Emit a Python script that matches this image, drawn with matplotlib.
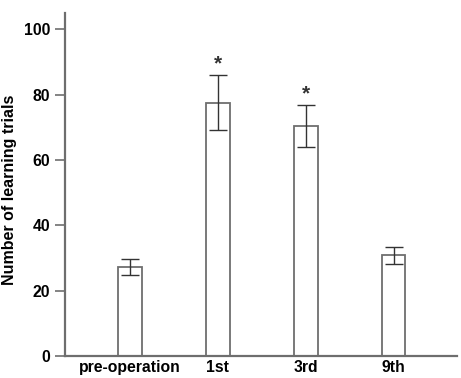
import matplotlib
matplotlib.use('Agg')
import numpy as np
import matplotlib.pyplot as plt

# --- data ---
grupos = ['pre-operation', '1st', '3rd', '9th']
medias = [27.2, 77.5, 70.4, 30.8]
erros = [2.4, 8.4, 6.3, 2.6]
signif = [False, True, True, False]

plt.rcParams['font.family'] = ['Liberation Sans', 'DejaVu Sans']
plt.rcParams['font.weight'] = 'bold'

fig = plt.figure(figsize=(4.61, 3.78), dpi=100)
ax = fig.add_axes([0.141, 0.058, 0.850, 0.908])

x = np.arange(len(grupos))
ax.bar(x, medias, width=0.27, color='white', edgecolor='#6e6e6e', linewidth=1.3, zorder=2)
ax.errorbar(x, medias, yerr=erros, fmt='none', ecolor='#333333', elinewidth=1.0,
            capsize=6.5, capthick=1.0, zorder=3)

for xi, m, e, s in zip(x, medias, erros, signif):
    if s:
        ax.text(xi, m + e + 0.5, '*', ha='center', va='bottom', fontsize=15,
                fontweight='bold', color='#333333')

ax.set_xlim(-0.74, 3.72)
ax.set_ylim(0, 105)
ax.set_yticks([0, 20, 40, 60, 80, 100])
ax.set_xticks(x)
ax.set_xticklabels(grupos, fontsize=11.3, fontweight='bold')
ax.tick_params(axis='x', length=0, pad=3)
ax.tick_params(axis='y', length=7.5, width=1.2, color='#6e6e6e', labelsize=11.3, pad=3)
for lab in ax.get_yticklabels():
    lab.set_fontweight('bold')

for lado in ['top', 'right']:
    ax.spines[lado].set_visible(False)
for lado in ['left', 'bottom']:
    ax.spines[lado].set_color('#6e6e6e')
    ax.spines[lado].set_linewidth(1.6)

ax.set_ylabel('Number of learning trials', fontsize=11.5, fontweight='bold')
ax.yaxis.set_label_coords(-0.122, 0.485)

fig.savefig('out.png', dpi=100)
